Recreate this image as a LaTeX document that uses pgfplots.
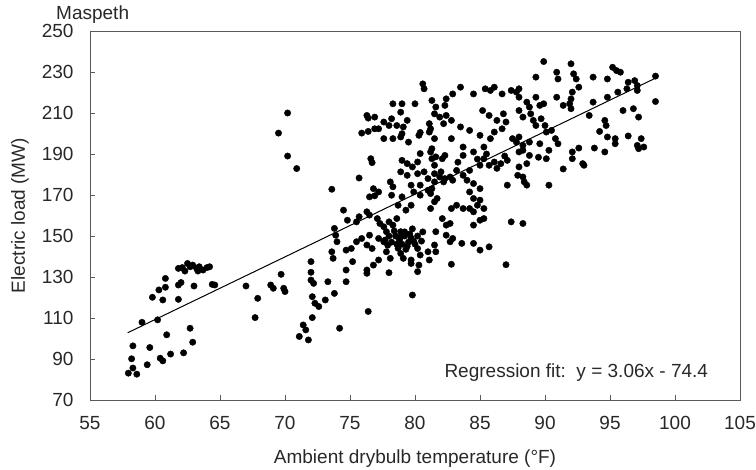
\documentclass[border=0pt]{standalone}
\usepackage{pgfplots}
\pgfplotsset{compat=1.18}
\usepackage{pgfplotstable}
\usepackage{fontspec}
\setmainfont{Liberation Sans}
\pgfplotstableread{
x y
57.95 83.1
58.6 82.6
58.3 85.6
58.2 90.1
58.3 96.4
59.4 87.2
59.6 95.6
60.4 90.4
60.6 89.1
61.2 92.4
62.2 93.0
62.9 98.2
62.7 105.0
60.9 101.8
59.0 107.9
60.2 109.1
59.8 120.1
60.6 118.8
61.8 119.1
60.3 123.7
60.8 125.0
60.8 129.3
61.8 126.1
62.0 127.3
63.0 125.6
64.4 126.4
64.6 126.1
61.8 134.2
62.1 134.6
62.5 136.6
62.7 135.0
62.9 135.8
63.2 134.2
63.4 135.0
63.7 133.4
64.0 134.6
64.2 135.0
62.3 132.9
63.3 132.9
67.0 125.6
67.9 119.6
67.7 110.2
70.2 210.0
69.5 200.2
70.2 189.0
70.9 182.9
73.6 172.8
76.3 208.8
76.4 207.5
75.9 200.2
76.4 201.0
76.9 202.3
76.6 187.7
76.7 185.8
75.7 178.3
76.5 169.1
76.9 169.6
74.5 162.6
74.8 157.7
75.5 156.9
73.8 153.7
73.9 150.4
74.0 147.2
73.6 142.3
73.7 139.1
74.7 143.1
75.2 137.5
74.7 133.4
74.7 127.7
76.3 131.8
72.0 137.5
72.0 132.3
72.0 128.5
72.2 126.9
73.3 127.7
73.8 122.0
72.1 120.4
72.3 117.2
72.6 115.6
73.1 118.8
72.1 110.2
71.4 106.6
71.6 104.2
71.1 101.0
71.8 99.3
74.2 105.0
76.4 113.2
69.7 131.3
68.9 126.1
69.1 124.5
69.9 124.5
70.0 122.9
80.6 224.2
80.7 221.8
78.3 214.5
79.0 214.5
80.0 214.5
81.3 216.1
81.6 212.9
81.5 209.6
76.9 208.0
77.6 205.6
78.2 207.2
78.0 203.9
78.6 203.9
78.9 210.4
79.4 206.4
79.1 203.2
81.9 208.0
82.4 208.8
81.1 204.8
81.2 202.3
77.2 202.3
77.6 197.5
78.3 197.5
78.9 198.3
79.0 199.9
79.5 195.8
80.3 199.1
80.4 200.5
81.1 200.7
79.0 186.9
79.4 185.3
79.8 183.7
80.2 186.1
80.4 190.2
81.2 191.0
81.6 188.6
82.1 187.7
82.3 189.3
78.9 181.3
79.4 179.6
80.2 180.4
80.7 181.3
81.0 178.0
81.5 180.4
81.9 178.8
82.3 178.0
78.1 176.4
78.3 174.0
78.2 169.9
76.8 173.1
77.2 171.5
79.7 174.8
80.4 174.8
79.9 171.5
80.4 169.9
81.0 172.3
81.5 166.7
81.7 168.3
81.2 170.7
79.0 169.1
78.7 165.0
79.3 162.6
79.7 165.0
75.7 159.4
76.3 161.8
76.5 160.2
77.1 158.5
77.3 156.1
77.6 154.5
78.0 156.9
78.3 155.3
78.6 158.5
78.9 152.1
78.5 150.0
78.8 148.0
79.2 150.0
79.5 147.0
79.0 146.0
79.7 149.0
78.2 147.0
79.4 145.0
78.7 144.0
80.0 146.0
79.2 152.0
78.0 150.0
77.7 148.0
80.2 150.0
78.4 152.5
79.6 151.0
78.9 149.5
79.9 147.5
78.6 146.0
79.3 143.5
80.5 147.5
77.9 145.5
79.8 153.5
80.6 152.0
75.1 143.9
75.5 147.2
75.9 148.8
76.5 150.4
77.2 148.8
77.6 147.2
77.8 152.1
76.3 145.6
76.7 143.9
77.8 142.3
78.1 139.1
77.2 138.3
76.8 135.8
76.3 133.4
78.9 141.5
79.1 139.1
79.7 138.3
80.2 143.9
80.4 140.7
80.3 135.8
81.0 142.3
81.5 145.6
81.1 138.3
81.6 142.3
80.2 132.6
79.7 136.6
78.0 132.1
81.6 152.1
82.1 158.5
82.4 155.3
79.8 121.2
89.9 235.1
89.3 227.5
90.9 229.9
91.0 226.6
83.5 222.6
82.9 219.3
82.4 216.9
82.3 213.7
82.8 206.4
84.5 219.3
85.4 221.8
85.8 221.0
86.1 222.6
86.7 219.3
87.4 221.0
87.8 220.2
88.0 221.8
88.0 217.7
88.6 215.3
88.8 212.9
89.3 217.7
89.6 213.7
89.9 214.5
85.2 211.2
85.7 208.8
86.3 206.4
86.8 209.6
87.0 205.6
86.7 202.3
88.0 211.2
88.3 208.0
88.9 209.6
89.1 206.4
89.3 203.9
89.7 207.2
90.0 203.9
90.1 200.7
90.5 201.5
90.8 197.5
82.2 204.8
83.5 203.2
84.2 201.5
85.0 199.1
85.8 197.5
86.1 200.7
85.3 193.4
83.7 193.4
82.8 197.5
81.5 197.5
81.3 192.6
87.5 197.5
88.0 198.3
87.8 195.8
88.3 194.2
88.8 195.8
89.6 195.0
90.3 191.8
88.3 191.8
88.0 191.0
88.8 189.3
88.6 185.3
88.0 183.7
87.9 179.6
88.3 178.8
88.4 176.4
88.6 174.8
89.5 188.4
90.1 187.7
90.3 174.8
83.7 189.3
84.5 191.0
85.3 187.7
85.7 184.5
86.1 186.1
86.6 185.3
87.1 186.9
86.3 183.0
86.9 189.0
85.5 190.0
84.8 187.5
83.3 186.0
85.0 184.5
84.2 182.0
83.7 179.6
83.2 182.0
82.7 178.8
82.0 181.3
81.5 184.5
82.2 176.4
82.9 177.2
81.3 187.7
84.0 177.2
84.5 175.6
85.0 173.1
84.2 171.5
84.5 168.3
85.0 167.5
84.8 165.0
84.2 163.4
83.7 163.4
83.2 165.0
82.8 163.4
85.3 163.4
84.5 161.8
85.3 158.5
84.5 155.3
85.0 157.7
82.7 156.1
81.5 176.4
81.3 173.1
81.2 163.4
87.1 174.8
87.4 156.9
88.3 156.1
82.4 150.4
82.7 147.2
82.9 148.8
83.6 146.4
84.5 146.4
85.0 143.1
85.7 144.7
82.8 136.2
87.0 136.0
92.0 234.0
92.2 229.1
92.4 226.6
92.6 222.6
93.7 227.5
94.8 226.6
95.2 232.3
95.5 230.7
95.8 229.9
96.4 225.0
96.9 225.8
97.1 223.4
97.1 221.0
98.5 228.0
92.1 220.2
92.0 216.9
90.9 217.7
91.4 213.7
91.9 214.5
92.0 212.1
93.7 215.3
94.8 217.7
95.6 220.2
96.3 221.8
98.5 215.6
96.0 211.2
96.8 212.1
97.2 208.0
93.4 208.8
94.6 206.4
94.7 203.9
94.2 201.0
91.0 195.0
94.8 198.3
95.4 197.5
95.4 195.0
96.4 198.8
97.4 197.5
97.1 194.2
97.6 193.4
97.2 192.6
93.8 192.9
94.6 191.0
92.6 192.9
92.1 191.0
92.1 187.7
92.9 185.3
93.0 184.5
91.4 182.7
}\loaddata
\definecolor{axgray}{RGB}{90,90,90}
\definecolor{txt}{RGB}{40,40,40}
\begin{document}
\begin{tikzpicture}
\begin{axis}[
  name=main,
  scale only axis,
  width=650bp, height=369bp,
  xmin=55, xmax=105, ymin=70, ymax=250,
  xtick={55,60,...,105}, ytick={70,90,...,250},
  tick align=inside,
  xtick pos=bottom, ytick pos=left,
  major tick length=5bp,
  axis line style={axgray, line width=0.9bp},
  tick style={axgray, line width=0.8bp},
  /pgf/number format/assume math mode=true,
  tick label style={font=\fontsize{19bp}{22bp}\selectfont, text=txt},
  xticklabel style={anchor=center, yshift=-23bp},
  yticklabel style={anchor=east, xshift=-13bp},
  xlabel={Ambient drybulb temperature (°F)},
  ylabel={Electric load (MW)},
  label style={font=\fontsize{19bp}{22bp}\selectfont, text=txt},
  xlabel style={at={([yshift=-59bp]axis description cs:0.5,0)}, anchor=center},
  ylabel style={at={([xshift=-70bp]axis description cs:0,0.5)}, anchor=center, rotate=0},
  clip=false,
]
\addplot[only marks, mark=*, mark size=3.2bp, black, mark options={fill=black, draw=black}] table[x=x,y=y] {\loaddata};
\addplot[black, line width=1bp] coordinates {(57.9,102.8) (98.5,227.0)};
\node[anchor=west, font=\fontsize{19bp}{22bp}\selectfont, text=txt] at (axis cs:82.0,83.5) {Regression fit:\ \ y = 3.06x - 74.4};
\end{axis}
\node[anchor=south west, font=\fontsize{19bp}{22bp}\selectfont, text=txt, inner sep=0pt] at ([shift={(-34bp,7bp)}]main.north west) {Maspeth};
\pgfresetboundingbox
\path[use as bounding box] ([shift={(-90bp,-70bp)}]main.south west) rectangle ([shift={(16bp,31bp)}]main.north east);
\end{tikzpicture}
\end{document}
